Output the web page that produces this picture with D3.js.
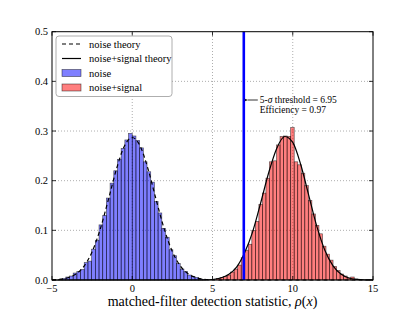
<!DOCTYPE html>
<html>
<head>
<meta charset="utf-8">
<script src="https://cdn.jsdelivr.net/npm/d3@7"></script>
<style>
  body { margin: 0; background: #fff; }
  svg text { font-family: "Liberation Serif", "Times New Roman", "DejaVu Serif", serif; }
</style>
</head>
<body>
<div id="chart"></div>
<script>
var width = 415, height = 312;
var margin = {top: 31.7, right: 42, bottom: 32, left: 52};

// tick labels
var xTicks = [-5, 0, 5, 10, 15];
var yTicks = [0.0, 0.1, 0.2, 0.3, 0.4, 0.5];

// noise histogram: bin edges and heights
var noiseEdges = [-4.6, -4.37, -4.14, -3.91, -3.68, -3.45, -3.22, -2.99, -2.76, -2.53,
  -2.30, -2.07, -1.84, -1.61, -1.38, -1.15, -0.92, -0.69, -0.46, -0.23,
  0, 0.23, 0.46, 0.69, 0.92, 1.15, 1.38, 1.61, 1.84, 2.07,
  2.30, 2.53, 2.76, 2.99, 3.22, 3.45, 3.68, 3.91, 4.14, 4.37, 4.6];
var noiseCounts = [0.001, 0.003, 0.006, 0.008, 0.014, 0.017, 0.021, 0.035, 0.038, 0.062,
  0.080, 0.111, 0.130, 0.165, 0.195, 0.220, 0.243, 0.265, 0.282, 0.295,
  0.290, 0.281, 0.266, 0.238, 0.218, 0.197, 0.158, 0.135, 0.104, 0.086,
  0.061, 0.049, 0.033, 0.022, 0.017, 0.010, 0.007, 0.005, 0.002, 0.001];

// noise+signal histogram
var signalEdges = [5.25, 5.47, 5.69, 5.91, 6.13, 6.35, 6.57, 6.79, 7.01, 7.23,
  7.45, 7.67, 7.89, 8.11, 8.33, 8.55, 8.77, 8.99, 9.21, 9.43,
  9.65, 9.87, 10.09, 10.31, 10.53, 10.75, 10.97, 11.19, 11.41, 11.63,
  11.85, 12.07, 12.29, 12.51, 12.73, 12.95, 13.17, 13.39, 13.61, 13.83, 14.05];
var signalCounts = [0.003, 0.005, 0.007, 0.010, 0.016, 0.022, 0.030, 0.045, 0.060, 0.072,
  0.100, 0.118, 0.152, 0.175, 0.205, 0.238, 0.240, 0.272, 0.289, 0.290,
  0.289, 0.307, 0.238, 0.232, 0.215, 0.190, 0.160, 0.133, 0.110, 0.093,
  0.068, 0.052, 0.040, 0.027, 0.019, 0.012, 0.008, 0.004, 0.006, 0.002];

// theory curves, read at 0.5 steps
var theoryX = [-5, -4.5, -4, -3.5, -3, -2.5, -2, -1.5, -1, -0.5, 0, 0.5, 1, 1.5, 2, 2.5, 3, 3.5, 4, 4.5,
  5, 5.5, 6, 6.5, 7, 7.5, 8, 8.5, 9, 9.5, 10, 10.5, 11, 11.5, 12, 12.5, 13, 13.5, 14, 14.5, 15];
var noiseTheory = [0.0004, 0.0015, 0.0046, 0.0121, 0.028, 0.0569, 0.1019, 0.1603, 0.2216, 0.269,
  0.287, 0.269, 0.2216, 0.1603, 0.1019, 0.0569, 0.028, 0.0121, 0.0046, 0.0015,
  0.0004, 0, 0, 0, 0, 0, 0, 0, 0, 0, 0, 0, 0, 0, 0, 0, 0, 0, 0, 0, 0];
var signalTheory = [0, 0, 0, 0, 0, 0, 0, 0, 0, 0, 0, 0, 0, 0, 0, 0, 0, 0, 0, 0,
  0.001, 0.004, 0.011, 0.026, 0.055, 0.097, 0.155, 0.216, 0.265, 0.289,
  0.277, 0.232, 0.170, 0.108, 0.060, 0.029, 0.012, 0.004, 0.0012, 0.0003, 0.0001];

var threshold = 6.95;
var efficiency = 0.97;

var svg = d3.select("#chart").append("svg")
  .attr("width", width)
  .attr("height", height)
  .attr("font-family", "'Liberation Serif', 'Times New Roman', serif");

var x = d3.scaleLinear().domain([-5, 15]).range([margin.left, width - margin.right]);
var y = d3.scaleLinear().domain([0, 0.5]).range([height - margin.bottom, margin.top]);

var x0 = x.range()[0], x1 = x.range()[1], y0 = y.range()[0], y1 = y.range()[1];

// grid
svg.append("g").selectAll("line").data(xTicks.slice(1, -1)).enter().append("line")
  .attr("x1", d => x(d)).attr("x2", d => x(d))
  .attr("y1", y0).attr("y2", y1)
  .attr("stroke", "#777").attr("stroke-width", 0.6).attr("stroke-dasharray", "1,2");
svg.append("g").selectAll("line").data(yTicks.slice(1, -1)).enter().append("line")
  .attr("x1", x0).attr("x2", x1)
  .attr("y1", d => y(d)).attr("y2", d => y(d))
  .attr("stroke", "#777").attr("stroke-width", 0.6).attr("stroke-dasharray", "1,2");

function drawHist(edges, counts, color) {
  svg.append("g").selectAll("rect").data(counts).enter().append("rect")
    .attr("x", (d, i) => x(edges[i]))
    .attr("width", (d, i) => x(edges[i + 1]) - x(edges[i]))
    .attr("y", d => y(d))
    .attr("height", d => y(0) - y(d))
    .attr("fill", color)
    .attr("fill-opacity", 0.5)
    .attr("stroke", "#000")
    .attr("stroke-opacity", 0.6)
    .attr("stroke-width", 0.7);
}
drawHist(noiseEdges, noiseCounts, "blue");
drawHist(signalEdges, signalCounts, "red");

var line = d3.line().curve(d3.curveMonotoneX);

svg.append("path")
  .attr("d", line(theoryX.map((d, i) => [x(d), y(noiseTheory[i])])))
  .attr("fill", "none").attr("stroke", "#000").attr("stroke-width", 1.2)
  .attr("stroke-dasharray", "4,3");
svg.append("path")
  .attr("d", line(theoryX.map((d, i) => [x(d), y(signalTheory[i])])))
  .attr("fill", "none").attr("stroke", "#000").attr("stroke-width", 1.2);

// threshold
svg.append("line")
  .attr("x1", x(threshold)).attr("x2", x(threshold))
  .attr("y1", y0).attr("y2", y1)
  .attr("stroke", "blue").attr("stroke-width", 2.6);

// frame
svg.append("rect")
  .attr("x", x0).attr("y", y1).attr("width", x1 - x0).attr("height", y0 - y1)
  .attr("fill", "none").attr("stroke", "#000").attr("stroke-width", 1);

// ticks inward on all sides
var tk = svg.append("g").attr("stroke", "#000").attr("stroke-width", 0.8);
xTicks.forEach(function(t) {
  tk.append("line").attr("x1", x(t)).attr("x2", x(t)).attr("y1", y0).attr("y2", y0 - 4);
  tk.append("line").attr("x1", x(t)).attr("x2", x(t)).attr("y1", y1).attr("y2", y1 + 4);
});
yTicks.forEach(function(t) {
  tk.append("line").attr("x1", x0).attr("x2", x0 + 4).attr("y1", y(t)).attr("y2", y(t));
  tk.append("line").attr("x1", x1).attr("x2", x1 - 4).attr("y1", y(t)).attr("y2", y(t));
});

svg.append("g").selectAll("text").data(xTicks).enter().append("text")
  .attr("x", d => x(d)).attr("y", y0 + 12)
  .attr("text-anchor", "middle").attr("font-size", 10.5)
  .text(d => d < 0 ? "\u2212" + Math.abs(d) : d);
svg.append("g").selectAll("text").data(yTicks).enter().append("text")
  .attr("x", x0 - 4).attr("y", d => y(d) + 3.5)
  .attr("text-anchor", "end").attr("font-size", 10.5)
  .text(d => d.toFixed(1));

// x label
var xl = svg.append("text")
  .attr("x", (x0 + x1) / 2).attr("y", height - 6)
  .attr("text-anchor", "middle").attr("font-size", 14);
xl.append("tspan").text("matched-filter detection statistic, ");
xl.append("tspan").attr("font-style", "italic").text("\u03C1");
xl.append("tspan").text("(");
xl.append("tspan").attr("font-style", "italic").text("x");
xl.append("tspan").text(")");

// annotation
var ay = 100;
svg.append("defs").append("marker")
  .attr("id", "ah").attr("viewBox", "0 0 10 10").attr("refX", 1).attr("refY", 5)
  .attr("markerWidth", 5).attr("markerHeight", 5).attr("orient", "auto-start-reverse")
  .append("path").attr("d", "M0,5 L10,1 L7,5 L10,9 Z").attr("fill", "#000");
svg.append("line")
  .attr("x1", x(threshold) + 14).attr("x2", x(threshold) + 4)
  .attr("y1", ay).attr("y2", ay)
  .attr("stroke", "#000").attr("stroke-width", 0.8)
  .attr("marker-end", "url(#ah)");
var a1 = svg.append("text").attr("x", x(threshold) + 16).attr("y", ay + 3).attr("font-size", 9.5);
a1.append("tspan").text("5-");
a1.append("tspan").attr("font-style", "italic").text("\u03C3");
a1.append("tspan").text(" threshold = " + threshold.toFixed(2));
svg.append("text").attr("x", x(threshold) + 16).attr("y", ay + 13).attr("font-size", 9.5)
  .text("Efficiency = " + efficiency.toFixed(2));

// legend
var legendItems = [
  {label: "noise theory", type: "dash"},
  {label: "noise+signal theory", type: "line"},
  {label: "noise", type: "blue"},
  {label: "noise+signal", type: "red"}
];
var lg = svg.append("g").attr("transform", "translate(56,36)");
lg.append("rect").attr("width", 116).attr("height", 60.5).attr("rx", 3)
  .attr("fill", "#fff").attr("stroke", "#999").attr("stroke-width", 0.8);
legendItems.forEach(function(d, i) {
  var cy = 8 + i * 14.5;
  if (d.type === "dash" || d.type === "line") {
    lg.append("line").attr("x1", 6).attr("x2", 25).attr("y1", cy).attr("y2", cy)
      .attr("stroke", "#000").attr("stroke-width", 1.2)
      .attr("stroke-dasharray", d.type === "dash" ? "4,3" : null);
  } else {
    lg.append("rect").attr("x", 6).attr("y", cy - 3.5).attr("width", 19).attr("height", 7)
      .attr("fill", d.type).attr("fill-opacity", 0.5)
      .attr("stroke", "#000").attr("stroke-opacity", 0.6).attr("stroke-width", 0.7);
  }
  lg.append("text").attr("x", 33).attr("y", cy + 3.5).attr("font-size", 10.5).text(d.label);
});
</script>
</body>
</html>
